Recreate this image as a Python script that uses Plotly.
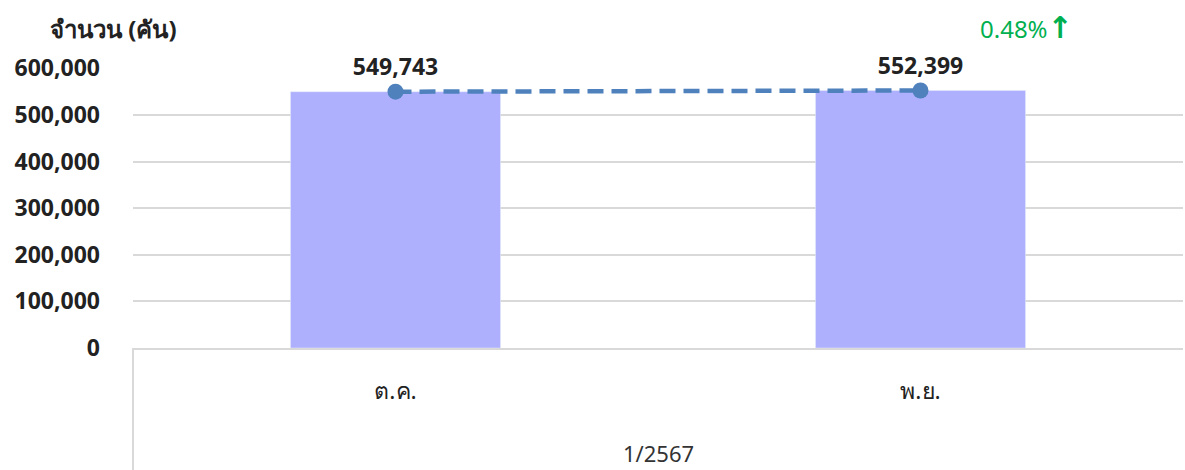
import plotly.graph_objects as go

categories = ["ต.ค.", "พ.ย."]
group_label = "1/2567"
values = [549743, 552399]
y_ticks = [0, 100000, 200000, 300000, 400000, 500000, 600000]
y_title = "จำนวน (คัน)"

pct = (values[1] - values[0]) / values[0] * 100
FONT = "Noto Sans, Tahoma, sans-serif"

fig = go.Figure()
fig.add_trace(go.Bar(x=categories, y=values, marker_color="#aeb0fe", width=0.4,
                     hoverinfo="skip", showlegend=False))
fig.add_trace(go.Scatter(x=categories, y=values, mode="lines+markers+text",
                         line=dict(color="#4f81bd", width=4.5, dash="16px,8px"),
                         marker=dict(size=16, color="#4f81bd"),
                         text=[f"<b>{v:,}</b>" for v in values],
                         textposition="top center",
                         textfont=dict(size=23, color="#222222", family=FONT),
                         cliponaxis=False, showlegend=False))

fig.add_annotation(x=-0.081, y=1, xref="paper", yref="paper", yshift=40,
                   text=f"<b>{y_title}</b>", showarrow=False,
                   font=dict(size=24, color="#222222", family=FONT),
                   xanchor="left", yanchor="middle")
fig.add_annotation(x=0.805, y=1, xref="paper", yref="paper", yshift=41,
                   text=f"{pct:.2f}%<span style='font-family:DejaVu Sans;font-size:30px'><b>↑</b></span>",
                   showarrow=False,
                   font=dict(size=24, color="#00b050", family=FONT),
                   xanchor="left", yanchor="middle")
fig.add_annotation(x=0.5, y=0, xref="paper", yref="paper", yshift=-105,
                   text=group_label, showarrow=False,
                   font=dict(size=22, color="#333333", family=FONT),
                   yanchor="middle")
fig.add_shape(type="line", xref="paper", yref="paper", x0=0, x1=0, y0=0, y1=-0.5,
              line=dict(color="#d9d9d9", width=2))

fig.update_layout(
    width=1185, height=470,
    margin=dict(l=133, r=2, t=68, b=122),
    plot_bgcolor="white", paper_bgcolor="white",
    font=dict(family=FONT),
)
fig.update_xaxes(showline=True, linecolor="#d9d9d9", linewidth=2, ticks="",
                 tickfont=dict(size=23, color="#222222", family=FONT),
                 ticklabelstandoff=21, showgrid=False)
fig.update_yaxes(range=[0, 600600], tickvals=y_ticks,
                 ticktext=[f"<b>{t:,}</b>" for t in y_ticks],
                 tickfont=dict(size=23, color="#222222", family=FONT),
                 showgrid=True, gridcolor="#d9d9d9", gridwidth=1.5,
                 zeroline=False, showline=False, ticks="", ticklabelstandoff=32)

fig.write_html("out.html", config={"displayModeBar": False},
               post_script="document.body.style.margin='0';document.body.style.overflow='hidden';")
